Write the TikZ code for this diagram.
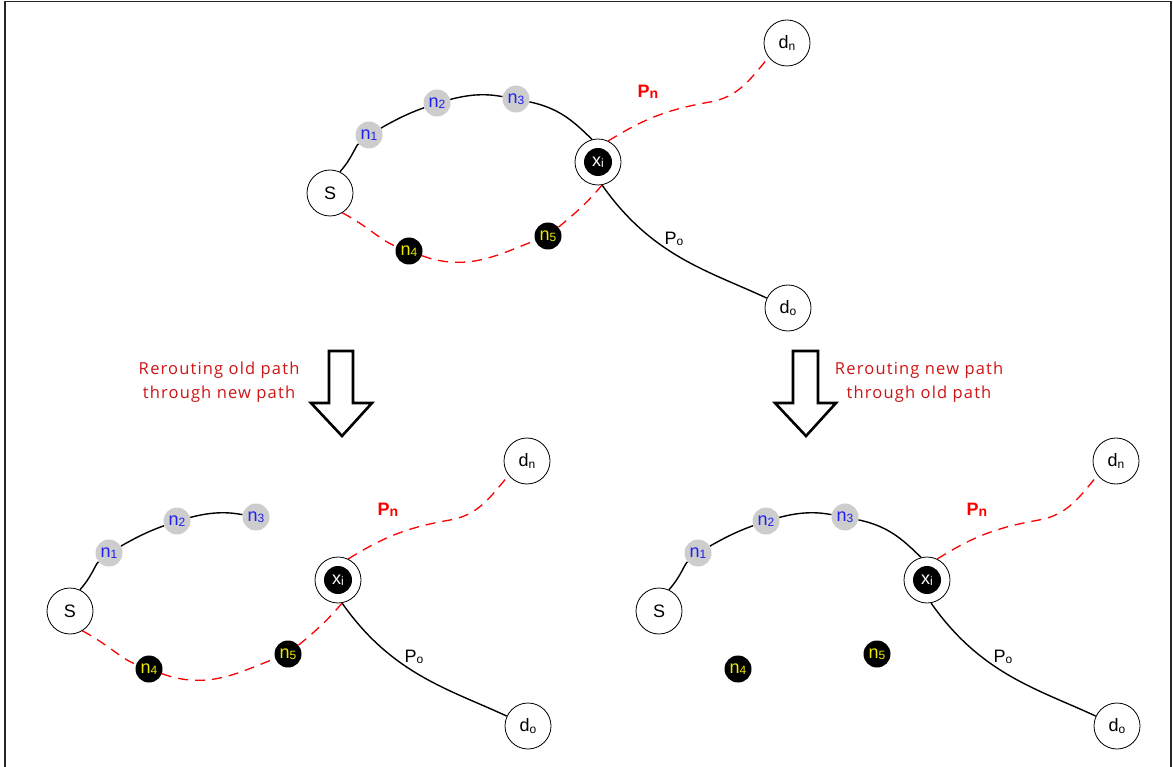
\documentclass[tikz,border=0pt]{standalone}
\usepackage{fontspec}
\setmainfont{Liberation Sans}
\newfontfamily\capfont[LetterSpace=7]{Open Sans}
\usetikzlibrary{backgrounds}
\definecolor{nodegray}{RGB}{205,205,205}
\definecolor{nodeblue}{RGB}{30,30,240}
\definecolor{nodeyellow}{RGB}{235,235,0}
\definecolor{pathred}{RGB}{250,0,0}
\definecolor{textred}{RGB}{205,20,20}
\newcommand\mysub[1]{\raisebox{-1.5pt}{\fontsize{12}{12}\selectfont #1}}
\newcommand\placenodes{%
  \node[endpt] (S) at (330,193) {S};
  \node[relay] (n1) at (369,135) {n\mysub{1}};
  \node[relay] (n2) at (437,103) {n\mysub{2}};
  \node[relay] (n3) at (516,99) {n\mysub{3}};
  \node[blk] (n4) at (409,251) {n\mysub{4}};
  \node[blk] (n5) at (548,236) {n\mysub{5}};
  \node[inter] (xi) at (598,162) {x\mysub{i}};
  \node[endpt] (dn) at (787,43) {d\mysub{n}};
  \node[endpt] (do) at (788,308) {d\mysub{o}};
  \coordinate (pm) at (710,102);
  \node[pnlab] (pn) at (648,92) {P\raisebox{-1.5pt}{\fontsize{14}{14}\selectfont\bfseries n}};
  \node[polab] (po) at (674,239) {P\mysub{o}};
}
\begin{document}
\begin{tikzpicture}[x=1pt,y=-1pt,
  endpt/.style={circle, draw, line width=0.8pt, fill=white, minimum size=46pt, inner sep=0pt, font=\fontsize{18}{18}\selectfont},
  relay/.style={circle, fill=nodegray, minimum size=27pt, inner sep=0pt, text=nodeblue, font=\fontsize{18}{18}\selectfont},
  blk/.style={circle, fill=black, minimum size=27pt, inner sep=0pt, text=nodeyellow, font=\fontsize{18}{18}\selectfont},
  inter/.style={circle, draw, line width=0.8pt, fill=white, minimum size=46pt, inner sep=0pt, text=white, font=\fontsize{18}{18}\selectfont,
    path picture={\fill[black] (path picture bounding box.center) circle (14pt);}},
  pnlab/.style={inner sep=0pt, text=pathred, font=\fontsize{18}{18}\selectfont\bfseries},
  polab/.style={inner sep=0pt, font=\fontsize{18}{18}\selectfont},
  oldpath/.style={line width=1.4pt, black},
  newpath/.style={line width=1.3pt, pathred, dash pattern=on 10pt off 7pt},
  bigarrow/.style={line width=2.6pt, draw=black, fill=white, line join=miter},
  caption/.style={align=center, text=textred, inner sep=0pt, font=\capfont\fontsize{16.5}{24.5}\selectfont},
  frame/.style={line width=1.8pt, draw=black!85}]
\useasboundingbox (0,0) rectangle (1173,767);
\draw[frame] (5,767) -- (5,1.5) -- (1171,1.5) -- (1171,767);

% ---- top diagram ----
\begin{scope}[name prefix=T-]
  \placenodes
  \begin{scope}[on background layer]
    \draw[oldpath] (S.65) to[out=48,in=220] (n1) to[out=30,in=200] (n2) to[out=15,in=170] (n3) to[out=-12,in=135] (xi.105);
    \draw[oldpath] (xi.-80) to[out=-55,in=155] (do);
    \draw[newpath] (S.-58) to[out=-28,in=160] (n4) to[out=-20,in=200] (n5) to[out=40,in=230] (xi.-80);
    \draw[newpath] (xi.64) to[out=32,in=190] (pm) to[out=10,in=230] (dn.218);
  \end{scope}
\end{scope}

% ---- bottom left ----
\begin{scope}[shift={(-260,418)}, name prefix=L-]
  \placenodes
  \begin{scope}[on background layer]
    \draw[oldpath] (S.65) to[out=48,in=220] (n1) to[out=30,in=200] (n2) to[out=15,in=170] (n3);
    \draw[oldpath] (xi.-80) to[out=-55,in=155] (do);
    \draw[newpath] (S.-58) to[out=-28,in=160] (n4) to[out=-20,in=200] (n5) to[out=40,in=230] (xi.-80);
    \draw[newpath] (xi.64) to[out=32,in=190] (pm) to[out=10,in=230] (dn.218);
  \end{scope}
\end{scope}

% ---- bottom right ----
\begin{scope}[shift={(329,418)}, name prefix=R-]
  \placenodes
  \begin{scope}[on background layer]
    \draw[oldpath] (S.65) to[out=48,in=220] (n1) to[out=30,in=200] (n2) to[out=15,in=170] (n3) to[out=-12,in=135] (xi.105);
    \draw[oldpath] (xi.-80) to[out=-55,in=155] (do);
    \draw[newpath] (xi.64) to[out=32,in=190] (pm) to[out=10,in=230] (dn.218);
  \end{scope}
\end{scope}

% ---- arrows and captions ----
\draw[bigarrow] (329,351) -- (353,351) -- (353,403) -- (372,403) -- (342,436) -- (311,403) -- (329,403) -- cycle;
\draw[bigarrow] (793,351) -- (818,351) -- (818,403) -- (836,403) -- (806,436) -- (775,403) -- (793,403) -- cycle;
\node[caption] (capL) at (219,382) {R\kern1.5pt erouting old path\\through new path};
\node[caption] (capR) at (919,382) {R\kern1.5pt erouting new path\\through old path};
\end{tikzpicture}
\end{document}
